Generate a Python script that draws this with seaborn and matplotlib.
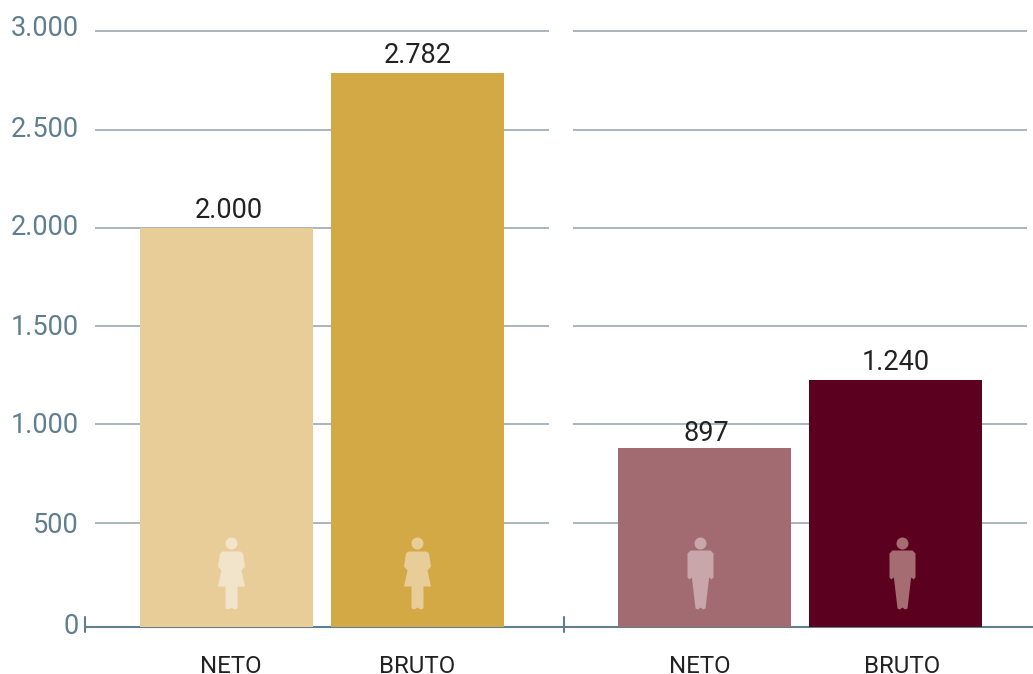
import numpy as np
import pandas as pd
import matplotlib
matplotlib.use('Agg')
import matplotlib.pyplot as plt
import seaborn as sns
from matplotlib.path import Path

sns.set_theme(style='white')
plt.rcParams['font.family'] = ['Roboto', 'DejaVu Sans']

categories = ['NETO', 'BRUTO']
women_values = [2000, 2782]
men_values = [897, 1240]
women_colors = ['#e9cd98', '#d2a945']
men_colors = ['#a26b71', '#5c001f']
women_icon_colors = ['#f2e4cb', '#e8cd98']
men_icon_colors = ['#c9a6a9', '#a56c72']

# the source chart was hand placed, its grid and labels sit a bit off the bar scale
grid_levels = [522, 1018, 1510, 2002, 2496, 2990]
ytick_positions = [20, 522, 1028, 1520, 2022, 2509, 3020]
ytick_labels = ['0', '500', '1.000', '1.500', '2.000', '2.500', '3.000']

TICK_COLOR = '#5f7f8f'
GRID_COLOR = '#a3b0ba'
TEXT_COLOR = '#222222'
W, H = 1033, 674


def circle(cx, cy, r):
    c = Path.unit_circle()
    return Path(c.vertices * r + [cx, cy], c.codes)


def woman_icon():
    head = circle(0, 30, 6)
    body = Path([(-9, 22), (9, 22), (11.5, 20), (13.5, 7), (10, 3), (13.5, -13), (6, -13), (6, -35),
                 (3, -36), (0, -34), (-3, -36), (-6, -35), (-6, -13), (-13.5, -13), (-10, 3), (-13.5, 7),
                 (-11.5, 20), (-9, 22)], closed=True)
    return Path.make_compound_path(head, body)


def man_icon():
    head = circle(0, 30, 6)
    body = Path([(-10, 23), (10, 23), (13, 20), (13, -4), (11, -6), (9, -4), (8.5, -5), (5, -35),
                 (2.5, -36), (0, -34), (-2.5, -36), (-5, -35), (-8.5, -5), (-9, -4), (-11, -6), (-13, -4),
                 (-13, 20), (-10, 23)], closed=True)
    return Path.make_compound_path(head, body)


def panel(ax, values, colors, icon, icon_colors, tick_x, icon_x, value_x, value_pad, xlim):
    df = pd.DataFrame({'tipo': categories, 'valor': values})
    sns.barplot(data=df, x='tipo', y='valor', hue='tipo', palette=dict(zip(categories, colors)),
                width=0.906, legend=False, saturation=1, linewidth=0, ax=ax)
    ax.hlines(grid_levels, -0.688, 1.688, color=GRID_COLOR, lw=1.3, zorder=0.5)
    ax.axhline(0, color=TICK_COLOR, lw=1.5, zorder=0.6, clip_on=False)
    ax.axvline(xlim[0], ymin=-5/627, ymax=10/627, color=TICK_COLOR, lw=1.5, clip_on=False)
    for x, v, pad in zip(value_x, values, value_pad):
        ax.annotate(f'{v:,.0f}'.replace(',', '.'), (x, v), xytext=(0, pad), textcoords='offset points',
                    ha='center', va='bottom', fontsize=19.5, color=TEXT_COLOR)
    for x, col in zip(icon_x, icon_colors):
        ax.plot([x], [271], marker=icon, ms=51.84, color=col, mew=0, zorder=3)
    ax.set_xticks(tick_x, categories)
    ax.tick_params(axis='x', length=0, pad=20, labelsize=17.3, labelcolor=TEXT_COLOR)
    ax.set_xlim(*xlim)
    ax.set_ylim(0, 627 / 0.1993)
    ax.set_xlabel('')
    ax.set_ylabel('')
    sns.despine(ax=ax, left=True, bottom=True)


fig = plt.figure(figsize=(W / 100, H / 100), dpi=100)
ax1 = fig.add_axes([85 / W, (H - 627) / H, 479 / W, 627 / H])
ax2 = fig.add_axes([564 / W, (H - 627) / H, 469 / W, 627 / H])

panel(ax1, women_values, women_colors, woman_icon(), women_icon_colors,
      [0.02, 1.0], [0.025, 0.995], [0.012, 1.0], [3.5, 2.7], (-0.741, 1.767))
panel(ax2, men_values, men_colors, man_icon(), men_icon_colors,
      [-0.024, 1.037], [-0.025, 1.035], [0.012, 1.0], [0.8, 2.7], (-0.7356, 1.72))

ax1.set_yticks(ytick_positions, ytick_labels)
ax1.tick_params(axis='y', length=0, pad=4.5, labelsize=19.5, labelcolor=TICK_COLOR)
ax2.set_yticks([])

fig.savefig('out.png', dpi=100)
